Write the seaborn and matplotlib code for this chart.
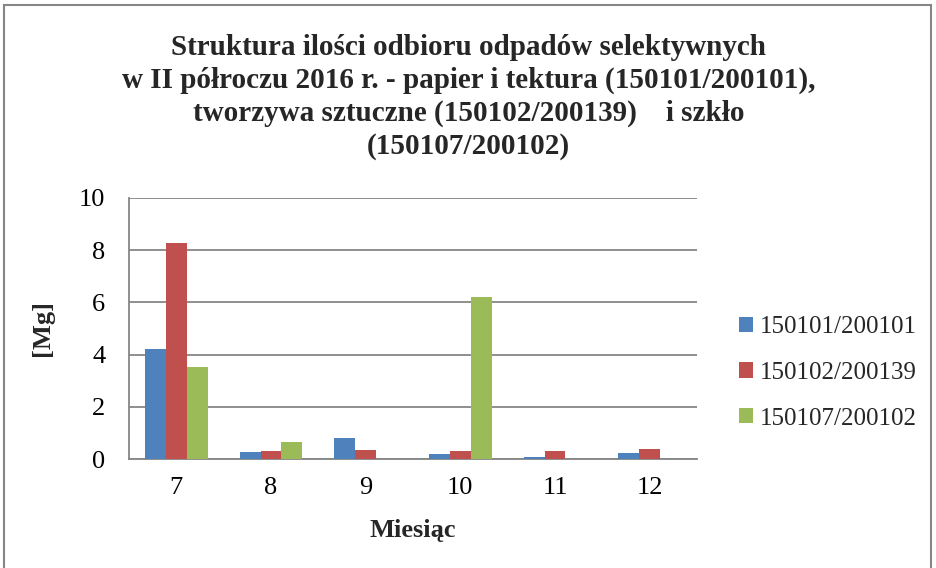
import matplotlib
matplotlib.use("Agg")
import matplotlib.pyplot as plt
import seaborn as sns
import pandas as pd
from matplotlib.patches import Rectangle

months = ["7", "8", "9", "10", "11", "12"]
series = ["150101/200101", "150102/200139", "150107/200102"]
s1 = [4.21, 0.27, 0.79, 0.18, 0.07, 0.22]
s2 = [8.27, 0.30, 0.34, 0.31, 0.32, 0.38]
s3 = [3.52, 0.67, 0.0, 6.20, 0.0, 0.0]
colors = ["#4F81BD", "#C0504D", "#9BBB59"]

rows = []
for name, vals in zip(series, [s1, s2, s3]):
    for m, v in zip(months, vals):
        rows.append({"Miesiąc": m, "Seria": name, "Wartość": v})
df = pd.DataFrame(rows)

sns.set_theme(style="white")
plt.rcParams["font.family"] = ["Liberation Serif", "DejaVu Serif"]

fig = plt.figure(figsize=(9.37, 5.68), dpi=100)
ax = fig.add_axes([129 / 937, 109 / 568, 568 / 937, 261 / 568])

sns.barplot(data=df, x="Miesiąc", y="Wartość", hue="Seria", order=months,
            hue_order=series, palette=colors, width=0.66, saturation=1,
            edgecolor="none", ax=ax, zorder=3)

ax.set_ylim(0, 10)
ax.set_yticks(range(0, 11, 2))
ax.yaxis.grid(True, color="#868686", linewidth=1.3, zorder=0)
ax.set_axisbelow(True)
for side in ["top", "right"]:
    ax.spines[side].set_visible(False)
for side in ["left", "bottom"]:
    ax.spines[side].set_color("#868686")
    ax.spines[side].set_linewidth(1.3)
ax.tick_params(axis="both", labelsize=19, colors="black", length=0)
ax.tick_params(axis="y", pad=17)
ax.tick_params(axis="x", pad=13)
ax.set_ylabel("[Mg]", fontsize=19, fontweight="bold", labelpad=18)
ax.set_xlabel("Miesiąc", fontsize=19, fontweight="bold", labelpad=14)

leg = ax.legend(loc="center left", bbox_to_anchor=(1.034, 0.33), frameon=False,
                fontsize=18, handlelength=0.56, handleheight=0.56,
                handletextpad=0.28, labelspacing=0.95)

fig.text(0.5, 0.94,
         "Struktura ilości odbioru odpadów selektywnych\n"
         "w II półroczu 2016 r. - papier i tektura (150101/200101),\n"
         "tworzywa sztuczne (150102/200139)    i szkło\n"
         "(150107/200102)",
         ha="center", va="top", fontsize=21, fontweight="bold",
         linespacing=1.27)

border = Rectangle((4 / 937, -0.01), 927 / 937, 1 - 5 / 568 + 0.01,
                   transform=fig.transFigure, fill=False,
                   edgecolor="#868686", linewidth=1.5)
fig.patches.append(border)

fig.savefig("out.png", dpi=100)
